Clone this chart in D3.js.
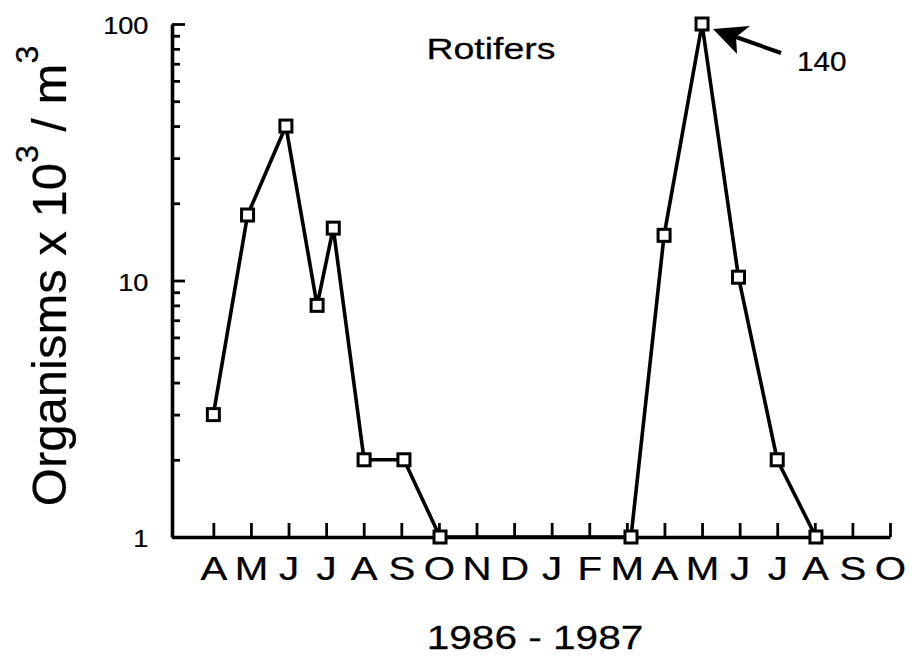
<!DOCTYPE html>
<html>
<head>
<meta charset="utf-8">
<script src="https://cdn.jsdelivr.net/npm/d3@7"></script>
<style>
  html, body { margin: 0; padding: 0; background: #fff; }
  svg { display: block; }
  text { font-family: "Liberation Sans", Arial, Helvetica, sans-serif; fill: #000; stroke: #000; stroke-width: 0.25px; }
</style>
</head>
<body>
<svg id="chart" width="914" height="661"></svg>
<script>
// Month tick labels, April 1986 through October 1987
const monthLabels = ["A","M","J","J","A","S","O","N","D","J","F","M","A","M","J","J","A","S","O"];
// Sampling dates as fractional month index (0 = April 1986)
const sampleMonth = [0, 0.91, 1.93, 2.76, 3.19, 4.01, 5.07, 6.03, 11.11, 11.99, 13.0, 13.97, 15.0, 16.03];
// Rotifer density, organisms x 10^3 per m^3
const rotifers = [3, 18, 40, 8, 16, 2, 2, 1, 1, 15, 140, 10.3, 2, 1];
// Log axis tick values
const majorTicks = [1, 10, 100];
const minorTicks = [2, 3, 4, 5, 6, 7, 8, 9, 20, 30, 40, 50, 60, 70, 80, 90];

const title = "Rotifers";
const xTitle = "1986 - 1987";
const peakLabel = "140";

const svg = d3.select("#chart");
const sx = 1.22; // wide, Helvetica-like lettering

const x = d3.scaleLinear().domain([-1.1, 18]).range([172, 890]);
const y = d3.scaleLog().domain([1, 100]).range([537, 24]).clamp(true);

// Bottom axis: ticks point up into the plot, month letters below
const xAxis = svg.append("g")
  .attr("transform", `translate(0,${y(1)})`)
  .call(d3.axisBottom(x)
    .tickValues(d3.range(monthLabels.length))
    .tickFormat(i => monthLabels[i])
    .tickSizeInner(-14).tickSizeOuter(0).tickPadding(20));
xAxis.select(".domain").attr("stroke-width", 3.4);
xAxis.selectAll(".tick line").attr("stroke-width", 2.8);
xAxis.selectAll(".tick text")
  .attr("font-size", 33)
  .attr("transform", `scale(${sx},1)`);

// Left axis: major ticks with labels
const yAxis = svg.append("g")
  .attr("transform", `translate(${x(-1.1)},0)`)
  .call(d3.axisLeft(y)
    .tickValues(majorTicks)
    .tickFormat(d3.format("d"))
    .tickSizeInner(-13).tickSizeOuter(0).tickPadding(20));
yAxis.select(".domain").attr("stroke-width", 3.6);
yAxis.selectAll(".tick line").attr("stroke-width", 2.8);
yAxis.selectAll(".tick text")
  .attr("font-size", 23)
  .attr("dy", "0.42em")
  .attr("transform", "scale(1.18,1)");

// Left axis: minor log ticks
const yMinor = svg.append("g")
  .attr("transform", `translate(${x(-1.1)},0)`)
  .call(d3.axisLeft(y)
    .tickValues(minorTicks)
    .tickFormat("")
    .tickSizeInner(-8).tickSizeOuter(0));
yMinor.select(".domain").remove();
yMinor.selectAll(".tick line").attr("stroke-width", 2.8);

// Series
const pts = sampleMonth.map((m, i) => ({ m, v: rotifers[i] }));
const line = d3.line().x(d => x(d.m)).y(d => y(d.v));

svg.append("path")
  .datum(pts)
  .attr("fill", "none")
  .attr("stroke", "#000")
  .attr("stroke-width", 3.6)
  .attr("stroke-linejoin", "round")
  .attr("d", line);

const box = 12;
svg.append("g").selectAll("rect")
  .data(pts)
  .join("rect")
  .attr("x", d => x(d.m) - box / 2)
  .attr("y", d => y(d.v) - box / 2)
  .attr("width", box)
  .attr("height", box)
  .attr("fill", "#fff")
  .attr("stroke", "#000")
  .attr("stroke-width", 3);

// Arrow pointing at the off-scale peak, with its value
const peak = pts.find(d => d.v === d3.max(rotifers));
const tipX = x(peak.m) + 11, tipY = y(peak.v) + 5;
const ann = svg.append("g").attr("transform", `translate(${tipX},${tipY})`);
ann.append("line")
  .attr("x1", 68).attr("y1", 24).attr("x2", 20).attr("y2", 7)
  .attr("stroke", "#000").attr("stroke-width", 4);
ann.append("path")
  .attr("d", "M0,0 L37,-3 L23,8 L24,25 Z")
  .attr("fill", "#000");
ann.append("text")
  .attr("transform", `translate(84,42) scale(1.1,1)`)
  .attr("font-size", 27)
  .text(peakLabel);

// Panel title
svg.append("text")
  .attr("transform", `translate(491,59) scale(1.25,1)`)
  .attr("text-anchor", "middle")
  .attr("font-size", 30)
  .text(title);

// X title
svg.append("text")
  .attr("transform", `translate(535,649) scale(1.23,1)`)
  .attr("text-anchor", "middle")
  .attr("font-size", 33)
  .text(xTitle);

// Y title, rotated
const yt = svg.append("text")
  .attr("transform", "translate(66,276) rotate(-90)")
  .attr("text-anchor", "middle")
  .attr("font-size", 49);
yt.append("tspan").text("Organisms x 10");
yt.append("tspan").attr("dy", -28).attr("font-size", 32).text("3");
yt.append("tspan").attr("dy", 28).text(" / m");
yt.append("tspan").attr("dy", -28).attr("font-size", 32).text("3");
</script>
</body>
</html>
